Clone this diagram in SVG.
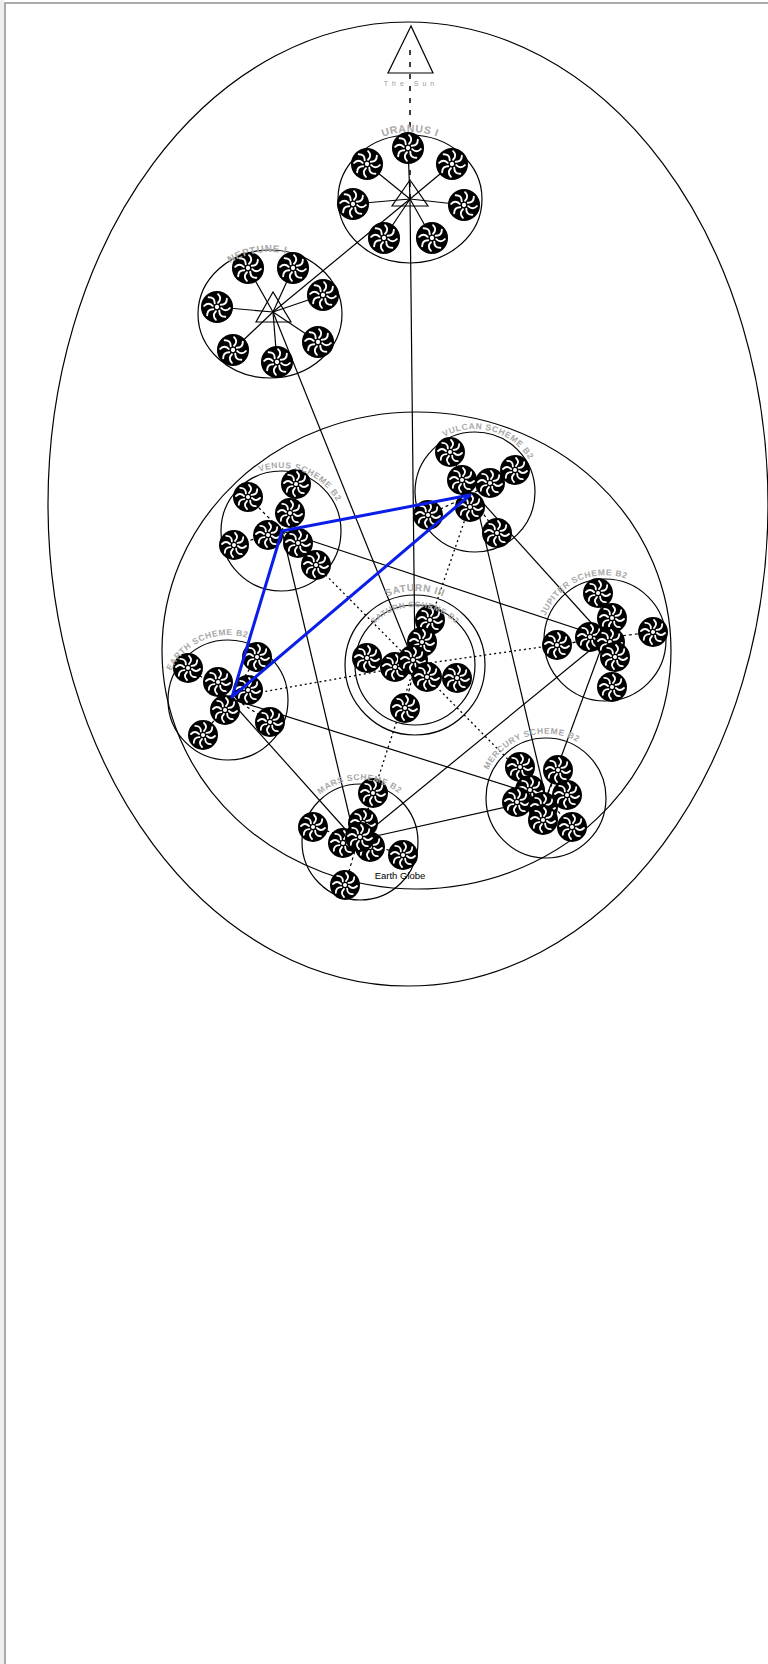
<svg xmlns="http://www.w3.org/2000/svg" xmlns:xlink="http://www.w3.org/1999/xlink" width="768" height="1664" viewBox="0 0 768 1664">
<style>
.o{fill:none;stroke:#000;stroke-width:1.2}
.ln{stroke:#000;stroke-width:1.2;fill:none}
.dt{stroke:#000;stroke-width:1.3;stroke-dasharray:2 3;fill:none}
.ds{stroke:#000;stroke-width:1.2;stroke-dasharray:3 3;fill:none}
.lb{font-family:"Liberation Sans",Arial,sans-serif;font-weight:bold;fill:#a8a8a8;font-size:8.5px;letter-spacing:0.6px}
.blue{stroke:#0a1ee8;stroke-width:3;fill:none;stroke-linejoin:round;stroke-linecap:round}
</style>
<defs>
<g id="ros">
<circle r="15" fill="#000"/>
<g fill="none" stroke="#fff" stroke-width="1.8" stroke-linecap="round">
<path id="pt" d="M1,-4 Q5,-8 1,-12"/>
<use xlink:href="#pt" href="#pt" transform="rotate(45)"/>
<use xlink:href="#pt" href="#pt" transform="rotate(90)"/>
<use xlink:href="#pt" href="#pt" transform="rotate(135)"/>
<use xlink:href="#pt" href="#pt" transform="rotate(180)"/>
<use xlink:href="#pt" href="#pt" transform="rotate(225)"/>
<use xlink:href="#pt" href="#pt" transform="rotate(270)"/>
<use xlink:href="#pt" href="#pt" transform="rotate(315)"/>
</g>
<circle r="2" fill="#fff"/>
</g>
<path id="pU" d="M370.8,142.3 A74 68 0 0 1 449.2,142.3"/>
<path id="pN" d="M229.8,263.2 A70 62 0 0 1 302.9,259.3"/>
<path id="pVe" d="M259.5,471.8 A63 63 0 0 1 341.9,514.7"/>
<path id="pVu" d="M444.4,436.9 A63 63 0 0 1 534.2,470.5"/>
<path id="pS1" d="M362.7,612.7 A74 74 0 0 1 467.3,612.7"/>
<path id="pS2" d="M370.6,627.7 A58 58 0 0 1 459.4,627.7"/>
<path id="pJ" d="M545.7,616 A64 64 0 0 1 645,589"/>
<path id="pMe" d="M488.5,770 A64 64 0 0 1 591,752"/>
<path id="pE" d="M171,670.9 A64 64 0 0 1 267,648"/>
<path id="pMa" d="M320.1,794.5 A62 62 0 0 1 407.5,802.1"/>
</defs>

<rect x="0" y="0" width="768" height="1664" fill="#fff"/>
<rect x="0" y="0" width="4" height="1664" fill="#efefef"/>
<rect x="5" y="3" width="780" height="1680" fill="none" stroke="#aaa" stroke-width="2"/>

<g id="outer-system">
<ellipse class="o" cx="408" cy="504" rx="360" ry="482"/>
</g>
<g id="inner-system">
<ellipse class="o" cx="416.5" cy="650.5" rx="254.5" ry="238.5"/>
</g>

<g id="connectors">
<line class="ds" x1="410" y1="50" x2="410" y2="199" style="stroke-dasharray:5 7;stroke-width:1.5"/>
<line class="ln" x1="410" y1="199" x2="273" y2="312"/>
<line class="ln" x1="410" y1="199" x2="415" y2="665"/>
<line class="ln" x1="273" y1="312" x2="415" y2="665"/>
<line class="ln" x1="282" y1="531" x2="355" y2="840"/>
<line class="ln" x1="282" y1="531" x2="605" y2="638"/>
<line class="ln" x1="474" y1="493" x2="605" y2="638"/>
<line class="ln" x1="474" y1="493" x2="546" y2="798"/>
<line class="ln" x1="228" y1="698" x2="546" y2="798"/>
<line class="ln" x1="228" y1="698" x2="355" y2="840"/>
<line class="ln" x1="358" y1="840" x2="605" y2="638"/>
<line class="ln" x1="358" y1="840" x2="546" y2="798"/>
<line class="ln" x1="605" y1="638" x2="546" y2="798"/>
<line class="dt" x1="415" y1="665" x2="282" y2="531"/>
<line class="dt" x1="415" y1="665" x2="474" y2="493"/>
<line class="dt" x1="415" y1="665" x2="605" y2="638"/>
<line class="dt" x1="415" y1="665" x2="228" y2="698"/>
<line class="dt" x1="415" y1="665" x2="358" y2="840"/>
<line class="dt" x1="415" y1="665" x2="546" y2="798"/>
</g>

<g id="the-sun">
<polygon class="o" points="411,26 388,73 433,73"/>
<text x="411" y="86" text-anchor="middle" style="font-family:'Liberation Sans',Arial,sans-serif;font-size:7px;letter-spacing:4px;fill:#999">The Sun</text>
</g>

<g id="uranus">
<ellipse class="o" cx="410" cy="199" rx="72" ry="64"/>
<g class="ln">
<line x1="410" y1="199" x2="408" y2="147"/><line x1="410" y1="199" x2="367" y2="164"/><line x1="410" y1="199" x2="452" y2="164"/><line x1="410" y1="199" x2="353" y2="204"/><line x1="410" y1="199" x2="464" y2="205"/><line x1="410" y1="199" x2="384" y2="238"/><line x1="410" y1="199" x2="432" y2="238"/>
</g>
<polygon class="o" points="410,180 392,206 428,206"/>
<use href="#ros" xlink:href="#ros" transform="translate(408,148) scale(1.07)"/>
<use href="#ros" xlink:href="#ros" transform="translate(367,164) scale(1.07)"/>
<use href="#ros" xlink:href="#ros" transform="translate(452,164) scale(1.07)"/>
<use href="#ros" xlink:href="#ros" transform="translate(353,204) scale(1.07)"/>
<use href="#ros" xlink:href="#ros" transform="translate(464,205) scale(1.07)"/>
<use href="#ros" xlink:href="#ros" transform="translate(384,238) scale(1.07)"/>
<use href="#ros" xlink:href="#ros" transform="translate(432,238) scale(1.07)"/>
<text class="lb" style="font-size:10.5px"><textPath href="#pU" xlink:href="#pU" startOffset="50%" text-anchor="middle">URANUS I</textPath></text>
</g>

<g id="neptune">
<ellipse class="o" cx="270" cy="314" rx="72" ry="64"/>
<g class="ln">
<line x1="273" y1="312" x2="248" y2="268"/><line x1="273" y1="312" x2="293" y2="268"/><line x1="273" y1="312" x2="323" y2="295"/><line x1="273" y1="312" x2="217" y2="307"/><line x1="273" y1="312" x2="318" y2="342"/><line x1="273" y1="312" x2="233" y2="350"/><line x1="273" y1="312" x2="277" y2="362"/>
</g>
<polygon class="o" points="273,292 256,322 291,322"/>
<use href="#ros" xlink:href="#ros" transform="translate(248,268) scale(1.07)"/>
<use href="#ros" xlink:href="#ros" transform="translate(293,268) scale(1.07)"/>
<use href="#ros" xlink:href="#ros" transform="translate(323,295) scale(1.07)"/>
<use href="#ros" xlink:href="#ros" transform="translate(217,307) scale(1.07)"/>
<use href="#ros" xlink:href="#ros" transform="translate(318,342) scale(1.07)"/>
<use href="#ros" xlink:href="#ros" transform="translate(233,350) scale(1.07)"/>
<use href="#ros" xlink:href="#ros" transform="translate(277,362) scale(1.07)"/>
<text class="lb" style="font-size:10px"><textPath href="#pN" xlink:href="#pN">NEPTUNE I</textPath></text>
</g>

<g id="venus">
<circle class="o" cx="281" cy="531" r="60"/>
<g class="ds"><line x1="282" y1="531" x2="248" y2="497"/><line x1="282" y1="531" x2="296" y2="484"/><line x1="282" y1="531" x2="234" y2="545"/><line x1="282" y1="531" x2="316" y2="565"/></g>
<use href="#ros" xlink:href="#ros" x="248" y="497"/>
<use href="#ros" xlink:href="#ros" x="296" y="484"/>
<use href="#ros" xlink:href="#ros" x="234" y="545"/>
<use href="#ros" xlink:href="#ros" x="290" y="513"/>
<use href="#ros" xlink:href="#ros" x="268" y="535"/>
<use href="#ros" xlink:href="#ros" x="298" y="543"/>
<use href="#ros" xlink:href="#ros" x="316" y="565"/>
<text class="lb"><textPath href="#pVe" xlink:href="#pVe">VENUS SCHEME B2</textPath></text>
</g>

<g id="vulcan">
<circle class="o" cx="475" cy="492" r="60"/>
<g class="ds"><line x1="470" y1="495" x2="450" y2="452"/><line x1="470" y1="495" x2="515" y2="470"/><line x1="470" y1="495" x2="428" y2="515"/><line x1="470" y1="495" x2="497" y2="533"/></g>
<use href="#ros" xlink:href="#ros" x="450" y="452"/>
<use href="#ros" xlink:href="#ros" x="515" y="470"/>
<use href="#ros" xlink:href="#ros" x="462" y="480"/>
<use href="#ros" xlink:href="#ros" x="490" y="483"/>
<use href="#ros" xlink:href="#ros" x="428" y="515"/>
<use href="#ros" xlink:href="#ros" x="470" y="507"/>
<use href="#ros" xlink:href="#ros" x="497" y="533"/>
<text class="lb"><textPath href="#pVu" xlink:href="#pVu">VULCAN SCHEME B2</textPath></text>
</g>

<g id="saturn">
<circle class="o" cx="415" cy="665" r="70"/>
<circle class="o" cx="415" cy="665" r="60"/>
<g class="ds"><line x1="415" y1="665" x2="430" y2="620"/><line x1="415" y1="665" x2="367" y2="658"/><line x1="415" y1="665" x2="457" y2="678"/><line x1="415" y1="665" x2="405" y2="708"/></g>
<use href="#ros" xlink:href="#ros" x="430" y="620"/>
<use href="#ros" xlink:href="#ros" x="422" y="642"/>
<use href="#ros" xlink:href="#ros" x="367" y="658"/>
<use href="#ros" xlink:href="#ros" x="395" y="667"/>
<use href="#ros" xlink:href="#ros" x="413" y="660"/>
<use href="#ros" xlink:href="#ros" x="427" y="677"/>
<use href="#ros" xlink:href="#ros" x="457" y="678"/>
<use href="#ros" xlink:href="#ros" x="405" y="708"/>
<text class="lb" style="font-size:10px"><textPath href="#pS1" xlink:href="#pS1" startOffset="50%" text-anchor="middle">SATURN III</textPath></text>
<text class="lb" style="font-size:8px"><textPath href="#pS2" xlink:href="#pS2" startOffset="50%" text-anchor="middle">SATURN SCHEME B2</textPath></text>
</g>

<g id="jupiter">
<circle class="o" cx="605" cy="640" r="61"/>
<g class="ds"><line x1="605" y1="638" x2="598" y2="593"/><line x1="605" y1="638" x2="557" y2="645"/><line x1="605" y1="638" x2="653" y2="632"/><line x1="605" y1="638" x2="612" y2="687"/></g>
<use href="#ros" xlink:href="#ros" x="598" y="593"/>
<use href="#ros" xlink:href="#ros" x="612" y="618"/>
<use href="#ros" xlink:href="#ros" x="590" y="637"/>
<use href="#ros" xlink:href="#ros" x="610" y="642"/>
<use href="#ros" xlink:href="#ros" x="557" y="645"/>
<use href="#ros" xlink:href="#ros" x="615" y="657"/>
<use href="#ros" xlink:href="#ros" x="653" y="632"/>
<use href="#ros" xlink:href="#ros" x="612" y="687"/>
<text class="lb"><textPath href="#pJ" xlink:href="#pJ">JUPITER SCHEME B2</textPath></text>
</g>

<g id="mercury">
<circle class="o" cx="546" cy="798" r="60"/>
<g class="ds"><line x1="546" y1="798" x2="520" y2="767"/><line x1="546" y1="798" x2="558" y2="770"/><line x1="546" y1="798" x2="572" y2="827"/></g>
<use href="#ros" xlink:href="#ros" x="520" y="767"/>
<use href="#ros" xlink:href="#ros" x="558" y="770"/>
<use href="#ros" xlink:href="#ros" x="530" y="790"/>
<use href="#ros" xlink:href="#ros" x="517" y="802"/>
<use href="#ros" xlink:href="#ros" x="543" y="807"/>
<use href="#ros" xlink:href="#ros" x="567" y="795"/>
<use href="#ros" xlink:href="#ros" x="543" y="820"/>
<use href="#ros" xlink:href="#ros" x="572" y="827"/>
<text class="lb"><textPath href="#pMe" xlink:href="#pMe">MERCURY SCHEME B2</textPath></text>
</g>

<g id="earth">
<circle class="o" cx="228" cy="700" r="60"/>
<g class="ds"><line x1="232" y1="697" x2="188" y2="668"/><line x1="232" y1="697" x2="257" y2="657"/><line x1="232" y1="697" x2="270" y2="722"/><line x1="232" y1="697" x2="203" y2="735"/></g>
<use href="#ros" xlink:href="#ros" x="188" y="668"/>
<use href="#ros" xlink:href="#ros" x="257" y="657"/>
<use href="#ros" xlink:href="#ros" x="218" y="682"/>
<use href="#ros" xlink:href="#ros" x="248" y="690"/>
<use href="#ros" xlink:href="#ros" x="225" y="710"/>
<use href="#ros" xlink:href="#ros" x="270" y="722"/>
<use href="#ros" xlink:href="#ros" x="203" y="735"/>
<text class="lb"><textPath href="#pE" xlink:href="#pE">EARTH SCHEME B2</textPath></text>
</g>

<g id="mars">
<circle class="o" cx="360" cy="842" r="58"/>
<g class="ds"><line x1="358" y1="840" x2="373" y2="793"/><line x1="358" y1="840" x2="313" y2="827"/><line x1="358" y1="840" x2="403" y2="855"/><line x1="358" y1="840" x2="345" y2="885"/></g>
<use href="#ros" xlink:href="#ros" x="373" y="793"/>
<use href="#ros" xlink:href="#ros" x="313" y="827"/>
<use href="#ros" xlink:href="#ros" x="363" y="823"/>
<use href="#ros" xlink:href="#ros" x="343" y="843"/>
<use href="#ros" xlink:href="#ros" x="370" y="847"/>
<use href="#ros" xlink:href="#ros" x="360" y="837"/>
<use href="#ros" xlink:href="#ros" x="403" y="855"/>
<use href="#ros" xlink:href="#ros" x="345" y="885"/>
<text class="lb"><textPath href="#pMa" xlink:href="#pMa">MARS SCHEME B2</textPath></text>
</g>

<g id="blue-link">
<polygon class="blue" points="282,531 470,495 232,697"/>
</g>

<g id="inner-label">
<text x="400" y="879" text-anchor="middle" style="font-family:'Liberation Sans',Arial,sans-serif;font-size:9.5px;fill:#000">Earth Globe</text>
</g>
</svg>
